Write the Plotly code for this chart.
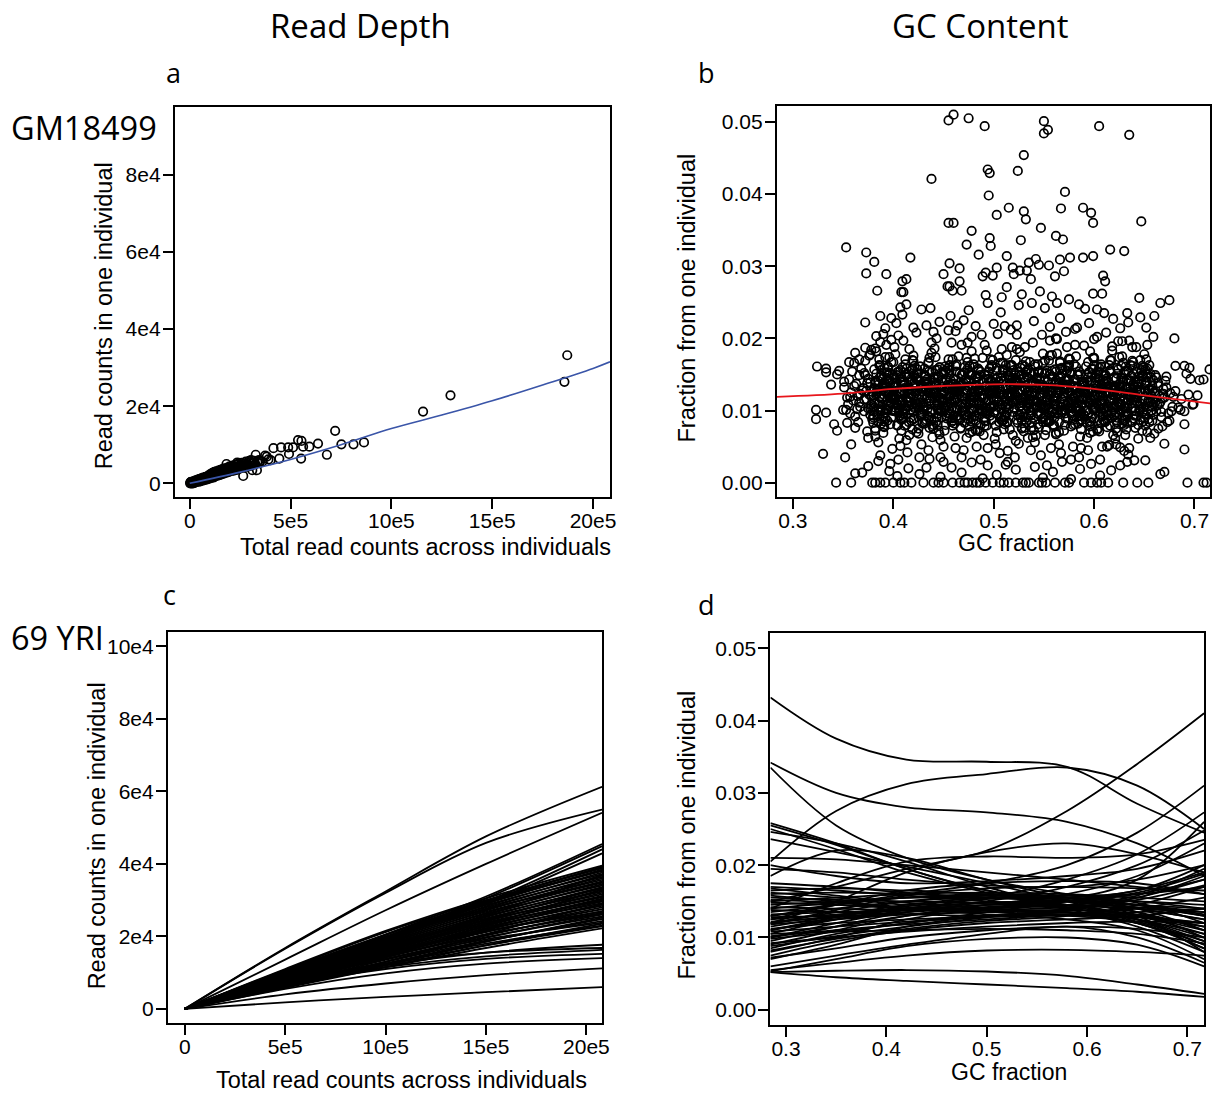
import plotly.graph_objects as go

W, H = 1225, 1095

# ---------------- data ---------------- #

# panel a: GM18499, total reads (x 1e5) vs reads in one individual (x 1e4)
gm_points = [
    (0.02, 0.00), (0.05, 0.01), (0.08, 0.01), (0.10, 0.02), (0.12, 0.01), (0.15, 0.03), (0.18, 0.02),
    (0.20, 0.04), (0.22, 0.03), (0.25, 0.05), (0.28, 0.04), (0.30, 0.06), (0.33, 0.05), (0.35, 0.07),
    (0.38, 0.05), (0.40, 0.08), (0.42, 0.06), (0.45, 0.09), (0.48, 0.07), (0.50, 0.10), (0.53, 0.08),
    (0.55, 0.11), (0.58, 0.09), (0.60, 0.12), (0.63, 0.10), (0.65, 0.13), (0.68, 0.09), (0.70, 0.14),
    (0.72, 0.11), (0.75, 0.15), (0.78, 0.12), (0.80, 0.16), (0.83, 0.13), (0.85, 0.17), (0.88, 0.12),
    (0.90, 0.18), (0.93, 0.14), (0.95, 0.19), (0.98, 0.15), (1.00, 0.20), (1.03, 0.16), (1.05, 0.22),
    (1.08, 0.17), (1.10, 0.21), (1.13, 0.18), (1.15, 0.25), (1.18, 0.19), (1.20, 0.23), (1.23, 0.20),
    (1.25, 0.27), (1.28, 0.21), (1.30, 0.24), (1.33, 0.22), (1.35, 0.28), (1.38, 0.23), (1.40, 0.26),
    (1.43, 0.24), (1.45, 0.30), (1.48, 0.25), (1.50, 0.28), (1.53, 0.26), (1.55, 0.31), (1.58, 0.27),
    (1.60, 0.29), (1.65, 0.33), (1.70, 0.30), (1.75, 0.34), (1.80, 0.31), (1.82, 0.50), (1.85, 0.36),
    (1.90, 0.33), (1.95, 0.38), (2.00, 0.34), (2.05, 0.40), (2.10, 0.36), (2.15, 0.42), (2.20, 0.37),
    (2.25, 0.43), (2.30, 0.39), (2.36, 0.54), (2.40, 0.41), (2.45, 0.46), (2.50, 0.42), (2.55, 0.48),
    (2.60, 0.44), (2.65, 0.19), (2.70, 0.47), (2.75, 0.52), (2.80, 0.45), (2.85, 0.50), (2.90, 0.48),
    (3.00, 0.55), (3.04, 0.60), (3.10, 0.34), (3.15, 0.52), (3.20, 0.58), (3.27, 0.74), (3.33, 0.34),
    (3.35, 0.55), (3.43, 0.60), (3.50, 0.58), (3.60, 0.56), (3.74, 0.72), (3.82, 0.69), (3.90, 0.62),
    (4.01, 0.60), (4.15, 0.91), (4.44, 0.64), (4.53, 0.93), (4.88, 0.93), (4.92, 0.76), (5.12, 0.93),
    (5.37, 1.12), (5.52, 0.64), (5.54, 1.10), (5.62, 0.95), (5.93, 0.95), (6.36, 1.03), (6.80, 0.74),
    (7.21, 1.36), (7.52, 1.01), (8.12, 1.01), (8.64, 1.06), (11.57, 1.86), (12.93, 2.28),
    (18.58, 2.63), (18.72, 3.32),
    (0.03, 0.02), (0.04, 0.03), (0.07, 0.04), (0.09, 0.00), (0.13, 0.04), (0.16, 0.00), (0.19, 0.05),
    (0.23, 0.01), (0.26, 0.07), (0.31, 0.03), (0.36, 0.09), (0.41, 0.04), (0.46, 0.11), (0.52, 0.05),
    (0.57, 0.13), (0.62, 0.07), (0.67, 0.15), (0.73, 0.08), (0.79, 0.17), (0.86, 0.10), (0.92, 0.20),
    (0.97, 0.12), (1.02, 0.24), (1.07, 0.14), (1.12, 0.27), (1.17, 0.15), (1.22, 0.30), (1.27, 0.18),
    (1.32, 0.31), (1.37, 0.20), (1.42, 0.33), (1.47, 0.21), (1.52, 0.35), (1.57, 0.23), (1.62, 0.37),
    (1.68, 0.25), (1.72, 0.39), (1.78, 0.27), (1.87, 0.41), (1.92, 0.29), (1.98, 0.44), (2.07, 0.32),
    (2.12, 0.46), (2.18, 0.33), (2.28, 0.49), (2.33, 0.35), (2.42, 0.51), (2.48, 0.38), (2.58, 0.53),
    (2.68, 0.41), (2.78, 0.56), (2.88, 0.43), (2.95, 0.58), (3.05, 0.46), (3.25, 0.50), (3.45, 0.52),
]
gm_fit_x = [0, 2.5, 5, 7.5, 10, 12.5, 15, 17.5, 20, 20.84]        # x 1e5
gm_fit_y = [0, 0.29, 0.62, 1.0, 1.42, 1.77, 2.14, 2.55, 2.98, 3.15]  # x 1e4

# panel b: GC fraction vs fraction from one individual (per mille)
gc_core = [
    (0.351, 13.2), (0.353, 10.1), (0.354, 11.8), (0.356, 14.3), (0.357, 9.6), (0.358, 12.5), (0.359, 15.4), (0.355, 10.9),
    (0.360, 11.4), (0.361, 16.6), (0.362, 9.2), (0.363, 13.7), (0.364, 12.0), (0.365, 8.4), (0.366, 14.9), (0.367, 10.5),
    (0.368, 15.8), (0.369, 12.8), (0.362, 7.6), (0.366, 11.1),
    (0.370, 13.1), (0.371, 9.9), (0.372, 16.9), (0.373, 11.6), (0.374, 7.1), (0.375, 14.4), (0.376, 12.2), (0.377, 10.3),
    (0.378, 18.4), (0.379, 8.8), (0.371, 15.2), (0.373, 12.7), (0.375, 6.2), (0.377, 13.9), (0.378, 10.8), (0.376, 17.6),
    (0.380, 12.1), (0.384, 9.4), (0.388, 14.8), (0.382, 7.2), (0.386, 16.3), (0.381, 11.0), (0.389, 13.5), (0.385, 5.6),
    (0.383, 18.2), (0.387, 10.2), (0.380, 8.3), (0.388, 15.6), (0.384, 12.9), (0.382, 6.4), (0.386, 17.1), (0.389, 11.7),
    (0.381, 9.9), (0.385, 14.1), (0.387, 3.8), (0.383, 20.3), (0.386, 13.0), (0.380, 10.6),
    (0.395, 10.8), (0.391, 13.9), (0.397, 8.1), (0.393, 15.2), (0.399, 11.5), (0.390, 6.9), (0.396, 17.4), (0.392, 12.6),
    (0.398, 9.0), (0.394, 14.5), (0.399, 4.7), (0.393, 19.1), (0.397, 11.9), (0.391, 7.7), (0.395, 16.0), (0.390, 13.2),
    (0.398, 10.0), (0.392, 21.4), (0.396, 12.3), (0.394, 8.6), (0.391, 15.9), (0.397, 2.6),
    (0.402, 13.4), (0.408, 11.2), (0.404, 7.9), (0.400, 16.7), (0.406, 9.7), (0.409, 14.0), (0.403, 12.0), (0.407, 5.1),
    (0.401, 18.8), (0.405, 10.4), (0.404, 15.3), (0.408, 8.9), (0.400, 13.7), (0.406, 6.1), (0.402, 17.8), (0.409, 11.4),
    (0.405, 3.2), (0.401, 14.6), (0.407, 9.3), (0.403, 22.1), (0.408, 12.5), (0.404, 10.9),
    (0.410, 9.1), (0.414, 12.8), (0.418, 15.5), (0.412, 10.3), (0.416, 6.6), (0.411, 13.6), (0.419, 17.0), (0.415, 11.3),
    (0.413, 8.0), (0.417, 14.3), (0.410, 19.7), (0.418, 12.2), (0.414, 4.2), (0.412, 16.4), (0.416, 10.7), (0.419, 7.4),
    (0.411, 13.1), (0.415, 15.0), (0.417, 11.8), (0.413, 5.9), (0.416, 18.5), (0.410, 9.6),
    (0.425, 11.6), (0.421, 14.9), (0.427, 9.8), (0.423, 7.0), (0.429, 13.3), (0.420, 16.9), (0.426, 10.1), (0.422, 12.4),
    (0.428, 5.3), (0.424, 15.7), (0.429, 8.4), (0.423, 20.8), (0.427, 11.1), (0.421, 13.8), (0.425, 6.8), (0.420, 17.6),
    (0.428, 9.5), (0.422, 12.7), (0.426, 3.5), (0.424, 14.2), (0.421, 10.5), (0.427, 16.1),
    (0.432, 12.9), (0.438, 8.7), (0.434, 14.4), (0.430, 11.0), (0.436, 17.3), (0.439, 6.3), (0.433, 13.0), (0.437, 9.9),
    (0.431, 15.8), (0.435, 4.5), (0.434, 12.1), (0.438, 18.0), (0.430, 10.6), (0.436, 7.6), (0.432, 14.7), (0.439, 11.9),
    (0.435, 16.6), (0.431, 8.2), (0.437, 13.5), (0.433, 2.1), (0.438, 19.4), (0.434, 10.2),
    (0.442, 12.4), (0.448, 9.1), (0.444, 14.6), (0.440, 7.5), (0.446, 16.0), (0.449, 11.3), (0.443, 13.8), (0.447, 5.9),
    (0.441, 18.6), (0.445, 10.0), (0.444, 8.0), (0.448, 15.3), (0.440, 12.6), (0.446, 6.7), (0.442, 17.4), (0.449, 11.5),
    (0.445, 9.6), (0.441, 14.4), (0.447, 3.5), (0.443, 20.0), (0.448, 13.3), (0.444, 10.3),
    (0.450, 11.1), (0.454, 13.6), (0.458, 8.4), (0.452, 15.5), (0.456, 11.2), (0.451, 7.2), (0.459, 17.1), (0.455, 12.9),
    (0.453, 9.3), (0.457, 14.2), (0.450, 5.0), (0.458, 19.4), (0.454, 11.6), (0.452, 8.0), (0.456, 16.3), (0.459, 12.9),
    (0.451, 10.3), (0.455, 21.1), (0.457, 12.0), (0.453, 8.9), (0.456, 15.6), (0.450, 2.9),
    (0.465, 13.1), (0.461, 11.5), (0.467, 7.6), (0.463, 16.4), (0.469, 10.0), (0.460, 13.7), (0.466, 12.3), (0.462, 4.8),
    (0.468, 19.1), (0.464, 10.1), (0.469, 15.0), (0.463, 9.2), (0.467, 13.4), (0.461, 6.4), (0.465, 17.5), (0.460, 11.7),
    (0.468, 3.5), (0.462, 14.3), (0.466, 9.0), (0.464, 21.8), (0.461, 12.8), (0.467, 10.6),
    (0.472, 9.4), (0.478, 12.5), (0.474, 15.8), (0.470, 10.0), (0.476, 6.9), (0.479, 13.3), (0.473, 17.3), (0.477, 11.0),
    (0.471, 8.3), (0.475, 14.0), (0.474, 19.4), (0.478, 12.5), (0.470, 4.5), (0.476, 16.1), (0.472, 11.0), (0.479, 7.1),
    (0.475, 13.4), (0.471, 15.3), (0.477, 11.5), (0.473, 6.2), (0.478, 18.2), (0.474, 9.3),
    (0.480, 11.9), (0.484, 14.6), (0.488, 10.1), (0.482, 7.3), (0.486, 13.0), (0.481, 17.2), (0.489, 9.8), (0.485, 12.7),
    (0.483, 5.0), (0.487, 15.4), (0.480, 8.7), (0.488, 20.5), (0.484, 11.4), (0.482, 13.5), (0.486, 7.1), (0.489, 17.3),
    (0.481, 9.2), (0.485, 13.0), (0.487, 3.2), (0.483, 14.5), (0.486, 10.2), (0.480, 16.4),
    (0.495, 12.6), (0.491, 9.0), (0.497, 14.1), (0.493, 11.3), (0.499, 17.0), (0.490, 6.6), (0.496, 13.3), (0.492, 9.6),
    (0.498, 16.1), (0.494, 4.8), (0.499, 12.4), (0.493, 18.3), (0.497, 10.3), (0.491, 7.9), (0.495, 14.4), (0.490, 12.2),
    (0.498, 16.3), (0.492, 8.5), (0.496, 13.2), (0.494, 2.4), (0.491, 19.1), (0.497, 10.5),
    (0.505, 12.3), (0.501, 9.7), (0.507, 14.5), (0.503, 7.0), (0.509, 16.6), (0.500, 10.7), (0.506, 13.2), (0.502, 5.3),
    (0.508, 18.5), (0.504, 10.5), (0.509, 8.6), (0.503, 15.9), (0.507, 12.6), (0.501, 6.1), (0.505, 17.4), (0.500, 11.4),
    (0.508, 10.2), (0.502, 14.4), (0.506, 4.1), (0.504, 20.6), (0.501, 13.3), (0.507, 10.9),
    (0.512, 10.5), (0.518, 14.2), (0.514, 8.4), (0.510, 15.5), (0.516, 11.8), (0.519, 6.6), (0.513, 17.7), (0.517, 12.3),
    (0.511, 9.3), (0.515, 14.8), (0.514, 4.4), (0.518, 18.8), (0.510, 12.2), (0.516, 7.4), (0.512, 16.3), (0.519, 12.9),
    (0.515, 10.3), (0.511, 21.7), (0.517, 12.0), (0.513, 8.3), (0.518, 16.2), (0.514, 2.9),
    (0.520, 13.7), (0.524, 11.5), (0.528, 7.6), (0.522, 17.0), (0.526, 9.4), (0.521, 14.3), (0.529, 11.7), (0.525, 5.4),
    (0.523, 18.5), (0.527, 10.7), (0.520, 15.6), (0.528, 8.6), (0.524, 14.0), (0.522, 5.8), (0.526, 18.1), (0.529, 11.1),
    (0.521, 3.5), (0.525, 14.9), (0.527, 9.0), (0.523, 21.8), (0.526, 12.8), (0.520, 11.2),
    (0.535, 9.4), (0.531, 13.1), (0.537, 15.2), (0.533, 10.6), (0.539, 6.3), (0.530, 13.9), (0.536, 16.7), (0.532, 11.6),
    (0.538, 7.7), (0.534, 14.6), (0.539, 19.4), (0.533, 12.5), (0.537, 4.5), (0.531, 16.1), (0.535, 11.0), (0.530, 7.1),
    (0.538, 13.4), (0.532, 15.3), (0.536, 11.5), (0.534, 6.2), (0.531, 18.8), (0.537, 9.3),
    (0.542, 11.3), (0.548, 15.2), (0.544, 9.5), (0.540, 7.3), (0.546, 13.6), (0.549, 16.6), (0.543, 10.4), (0.547, 12.1),
    (0.541, 5.6), (0.545, 15.4), (0.544, 8.1), (0.548, 20.5), (0.540, 11.4), (0.546, 14.1), (0.542, 6.5), (0.549, 17.9),
    (0.545, 9.8), (0.541, 12.4), (0.547, 3.8), (0.543, 14.5), (0.548, 10.8), (0.544, 16.4),
    (0.550, 13.2), (0.554, 8.4), (0.558, 14.7), (0.552, 10.7), (0.556, 17.6), (0.551, 6.6), (0.559, 12.7), (0.555, 10.2),
    (0.553, 15.5), (0.557, 4.8), (0.550, 12.4), (0.558, 17.7), (0.554, 10.9), (0.552, 7.3), (0.556, 15.0), (0.559, 11.6),
    (0.551, 16.9), (0.555, 8.5), (0.557, 13.2), (0.553, 2.4), (0.556, 19.7), (0.550, 10.5),
    (0.560, 11.8), (0.564, 9.7), (0.568, 15.1), (0.562, 6.9), (0.566, 16.6), (0.561, 11.3), (0.569, 13.2), (0.565, 5.3),
    (0.563, 17.9), (0.567, 10.5), (0.560, 8.0), (0.568, 15.9), (0.564, 13.2), (0.562, 6.7), (0.566, 16.8), (0.569, 12.0),
    (0.561, 9.6), (0.565, 13.8), (0.567, 4.1), (0.563, 19.9), (0.566, 12.7), (0.560, 10.9),
    (0.575, 11.1), (0.571, 14.2), (0.577, 7.8), (0.573, 15.5), (0.579, 11.2), (0.570, 7.2), (0.576, 17.1), (0.572, 12.9),
    (0.578, 9.3), (0.574, 14.2), (0.579, 5.0), (0.573, 18.8), (0.577, 11.6), (0.571, 8.0), (0.575, 16.3), (0.570, 13.5),
    (0.578, 10.3), (0.572, 20.9), (0.576, 12.6), (0.574, 8.9), (0.571, 15.6), (0.577, 3.2),
    (0.582, 13.1), (0.588, 11.5), (0.584, 8.2), (0.580, 16.4), (0.586, 10.0), (0.589, 13.7), (0.583, 12.3), (0.587, 4.8),
    (0.581, 19.1), (0.585, 10.1), (0.584, 15.0), (0.588, 9.2), (0.580, 13.4), (0.586, 6.4), (0.582, 17.5), (0.589, 11.7),
    (0.585, 3.5), (0.581, 14.3), (0.587, 9.6), (0.583, 21.5), (0.588, 12.8), (0.584, 10.6),
    (0.590, 9.4), (0.594, 12.5), (0.598, 15.8), (0.592, 10.0), (0.596, 6.9), (0.591, 13.3), (0.599, 17.3), (0.595, 11.0),
    (0.593, 8.3), (0.597, 14.0), (0.590, 19.0), (0.598, 12.5), (0.594, 4.5), (0.592, 16.1), (0.596, 11.0), (0.599, 7.1),
    (0.591, 13.4), (0.595, 15.3), (0.597, 11.5), (0.593, 6.2), (0.596, 18.2), (0.590, 9.3),
    (0.605, 11.9), (0.601, 14.6), (0.607, 10.1), (0.603, 7.3), (0.609, 13.0), (0.600, 17.2), (0.606, 9.8), (0.602, 12.7),
    (0.608, 5.0), (0.604, 15.4), (0.609, 8.7), (0.603, 20.2), (0.607, 11.4), (0.601, 13.5), (0.605, 7.1), (0.600, 17.3),
    (0.608, 9.2), (0.602, 13.0), (0.606, 3.2), (0.604, 14.5), (0.601, 10.2), (0.607, 16.4),
    (0.612, 12.6), (0.618, 9.0), (0.614, 14.1), (0.610, 11.3), (0.616, 17.0), (0.619, 6.6), (0.613, 13.3), (0.617, 9.6),
    (0.611, 16.1), (0.615, 5.2), (0.614, 12.4), (0.618, 18.3), (0.610, 10.3), (0.616, 7.9), (0.612, 14.4), (0.619, 12.2),
    (0.615, 16.3), (0.611, 8.5), (0.617, 13.2), (0.613, 5.0), (0.618, 18.9), (0.614, 10.5),
    (0.625, 12.3), (0.621, 9.7), (0.627, 14.5), (0.623, 7.0), (0.629, 16.6), (0.620, 10.7), (0.626, 13.2), (0.622, 5.3),
    (0.628, 17.5), (0.624, 10.5), (0.629, 8.6), (0.623, 15.9), (0.627, 12.6), (0.621, 6.1), (0.625, 17.4), (0.620, 11.4),
    (0.628, 10.2), (0.622, 14.4), (0.626, 4.9), (0.624, 19.6), (0.621, 13.3), (0.627, 10.9),
    (0.630, 10.5), (0.634, 14.2), (0.638, 8.4), (0.632, 15.5), (0.636, 11.8), (0.631, 6.6), (0.639, 16.7), (0.635, 12.3),
    (0.633, 9.3), (0.637, 14.8), (0.630, 4.4), (0.638, 18.8), (0.634, 12.2), (0.632, 7.4), (0.636, 16.3), (0.639, 12.9),
    (0.631, 10.3), (0.635, 19.7), (0.637, 12.0), (0.633, 8.3), (0.638, 16.2), (0.634, 3.9),
    (0.640, 12.2), (0.642, 9.3), (0.644, 14.7), (0.646, 11.0), (0.648, 16.2), (0.641, 7.6), (0.643, 13.3), (0.645, 10.1),
    (0.647, 15.3), (0.649, 8.5), (0.642, 12.8), (0.644, 6.1), (0.646, 17.0), (0.648, 11.6), (0.641, 14.0), (0.645, 9.8),
    (0.650, 11.4), (0.652, 13.9), (0.654, 8.8), (0.656, 15.1), (0.658, 10.6), (0.651, 12.7), (0.653, 7.0), (0.655, 16.3),
    (0.657, 12.0), (0.659, 9.4), (0.652, 14.6), (0.654, 11.1), (0.656, 6.2), (0.658, 13.4),
    (0.660, 12.6), (0.662, 9.9), (0.664, 13.8), (0.666, 11.2), (0.668, 7.8), (0.661, 14.9), (0.663, 10.7), (0.665, 12.1),
    (0.667, 9.1), (0.669, 13.0),
    (0.670, 11.8), (0.672, 13.2), (0.674, 9.6), (0.676, 12.4), (0.678, 10.5), (0.671, 14.1), (0.675, 8.6), (0.679, 11.9),
    (0.681, 12.7), (0.684, 10.4), (0.687, 11.6), (0.690, 9.9), (0.694, 12.2), (0.698, 10.8),
]
gc_dense = [
    (0.357, 11.9), (0.361, 13.4), (0.364, 10.2), (0.367, 12.3),
    (0.371, 11.5), (0.374, 13.8), (0.377, 9.4), (0.379, 12.6), (0.372, 14.9), (0.375, 10.3), (0.378, 12.0),
    (0.381, 10.4), (0.385, 13.6), (0.388, 8.2), (0.383, 15.1), (0.386, 11.9), (0.380, 9.3), (0.389, 14.4),
    (0.384, 12.7), (0.382, 7.5), (0.387, 16.2), (0.385, 10.9), (0.381, 13.1), (0.388, 8.8), (0.383, 12.2),
    (0.396, 12.9), (0.392, 9.7), (0.399, 14.9), (0.394, 11.3), (0.390, 7.8), (0.397, 13.8), (0.393, 10.1),
    (0.398, 16.7), (0.395, 12.4), (0.391, 8.5), (0.394, 15.3), (0.399, 11.6), (0.390, 9.1), (0.396, 14.0),
    (0.403, 11.1), (0.408, 14.7), (0.401, 9.9), (0.406, 12.6), (0.409, 16.0), (0.404, 8.0), (0.400, 13.3),
    (0.405, 10.7), (0.407, 15.6), (0.402, 11.8), (0.408, 7.2), (0.403, 13.9), (0.406, 10.2), (0.401, 12.0),
    (0.411, 13.5), (0.415, 10.6), (0.418, 8.6), (0.413, 15.8), (0.416, 12.3), (0.410, 9.5), (0.419, 14.2),
    (0.414, 11.4), (0.412, 17.1), (0.417, 10.0), (0.415, 13.0), (0.411, 7.9), (0.418, 12.8), (0.413, 15.0),
    (0.426, 10.4), (0.422, 13.6), (0.429, 8.2), (0.424, 15.1), (0.420, 11.9), (0.427, 9.3), (0.423, 14.4),
    (0.428, 12.7), (0.425, 7.5), (0.421, 16.2), (0.424, 10.9), (0.429, 13.1), (0.420, 8.8), (0.426, 12.2),
    (0.433, 12.9), (0.438, 9.7), (0.431, 14.9), (0.436, 11.3), (0.439, 7.8), (0.434, 13.8), (0.430, 10.1),
    (0.435, 16.7), (0.437, 12.4), (0.432, 8.5), (0.438, 15.3), (0.433, 11.6), (0.436, 9.1), (0.431, 14.0),
    (0.441, 11.1), (0.445, 14.7), (0.448, 9.9), (0.443, 12.6), (0.446, 16.0), (0.440, 8.0), (0.449, 13.3),
    (0.444, 10.7), (0.442, 15.6), (0.447, 11.8), (0.445, 7.2), (0.441, 13.9), (0.448, 10.2), (0.443, 12.0),
    (0.456, 13.5), (0.452, 10.6), (0.459, 8.6), (0.454, 15.8), (0.450, 12.3), (0.457, 9.5), (0.453, 14.2),
    (0.458, 11.4), (0.455, 17.1), (0.451, 10.0), (0.454, 13.0), (0.459, 7.9), (0.450, 12.8), (0.456, 15.0),
    (0.463, 10.4), (0.468, 13.6), (0.461, 8.2), (0.466, 15.1), (0.469, 11.9), (0.464, 9.3), (0.460, 14.4),
    (0.465, 12.7), (0.467, 7.5), (0.462, 16.2), (0.468, 10.9), (0.463, 13.1), (0.466, 8.8), (0.461, 12.2),
    (0.471, 12.9), (0.475, 9.7), (0.478, 14.9), (0.473, 11.3), (0.476, 7.8), (0.470, 13.8), (0.479, 10.1),
    (0.474, 16.7), (0.472, 12.4), (0.477, 8.5), (0.475, 15.3), (0.471, 11.6), (0.478, 9.1), (0.473, 14.0),
    (0.486, 11.1), (0.482, 14.7), (0.489, 9.9), (0.484, 12.6), (0.480, 16.0), (0.487, 8.0), (0.483, 13.3),
    (0.488, 10.7), (0.485, 15.6), (0.481, 11.8), (0.484, 7.2), (0.489, 13.9), (0.480, 10.2), (0.486, 12.0),
    (0.493, 13.5), (0.498, 10.6), (0.491, 8.6), (0.496, 15.8), (0.499, 12.3), (0.494, 9.5), (0.490, 14.2),
    (0.495, 11.4), (0.497, 17.1), (0.492, 10.0), (0.498, 13.0), (0.493, 7.9), (0.496, 12.8), (0.491, 15.0),
    (0.501, 10.8), (0.505, 14.0), (0.508, 8.6), (0.503, 15.5), (0.506, 12.3), (0.500, 9.7), (0.509, 14.8),
    (0.504, 13.1), (0.502, 7.9), (0.507, 16.6), (0.505, 11.3), (0.501, 13.5), (0.508, 9.2), (0.503, 12.6),
    (0.516, 12.5), (0.512, 9.3), (0.519, 14.5), (0.514, 10.9), (0.510, 7.4), (0.517, 13.4), (0.513, 9.7),
    (0.518, 16.3), (0.515, 12.0), (0.511, 8.1), (0.514, 14.9), (0.519, 11.2), (0.510, 8.7), (0.516, 13.6),
    (0.523, 11.4), (0.528, 15.0), (0.521, 10.2), (0.526, 12.9), (0.529, 16.3), (0.524, 8.3), (0.520, 13.6),
    (0.525, 11.0), (0.527, 15.9), (0.522, 12.1), (0.528, 7.5), (0.523, 14.2), (0.526, 10.5), (0.521, 12.3),
    (0.531, 13.2), (0.535, 10.3), (0.538, 8.3), (0.533, 15.5), (0.536, 12.0), (0.530, 9.2), (0.539, 13.9),
    (0.534, 11.1), (0.532, 16.8), (0.537, 9.7), (0.535, 12.7), (0.531, 7.6), (0.538, 12.5), (0.533, 14.7),
    (0.546, 10.6), (0.542, 13.8), (0.549, 8.4), (0.544, 15.3), (0.540, 12.1), (0.547, 9.5), (0.543, 14.6),
    (0.548, 12.9), (0.545, 7.7), (0.541, 16.4), (0.544, 11.1), (0.549, 13.3), (0.540, 9.0), (0.546, 12.4),
    (0.553, 13.1), (0.558, 9.9), (0.551, 15.1), (0.556, 11.5), (0.559, 8.0), (0.554, 14.0), (0.550, 10.3),
    (0.555, 16.9), (0.557, 12.6), (0.552, 8.7), (0.558, 15.5), (0.553, 11.8), (0.556, 9.3), (0.551, 14.2),
    (0.561, 10.9), (0.565, 14.5), (0.568, 9.7), (0.563, 12.4), (0.566, 15.8), (0.560, 7.8), (0.569, 13.1),
    (0.564, 10.5), (0.562, 15.4), (0.567, 11.6), (0.565, 7.0), (0.561, 13.7), (0.568, 10.0), (0.563, 11.8),
    (0.576, 13.6), (0.572, 10.7), (0.579, 8.7), (0.574, 15.9), (0.570, 12.4), (0.577, 9.6), (0.573, 14.3),
    (0.578, 11.5), (0.575, 17.2), (0.571, 10.1), (0.574, 13.1), (0.579, 8.0), (0.570, 12.9), (0.576, 15.1),
    (0.583, 10.3), (0.588, 13.5), (0.581, 8.1), (0.586, 15.0), (0.589, 11.8), (0.584, 9.2), (0.580, 14.3),
    (0.585, 12.6), (0.587, 7.4), (0.582, 16.1), (0.588, 10.8), (0.583, 13.0), (0.586, 8.7), (0.581, 12.1),
    (0.591, 12.9), (0.595, 9.7), (0.598, 14.9), (0.593, 11.3), (0.596, 7.8), (0.590, 13.8), (0.599, 10.1),
    (0.594, 16.7), (0.592, 12.4), (0.597, 8.5), (0.595, 15.3), (0.591, 11.6), (0.598, 9.1), (0.593, 14.0),
    (0.606, 11.4), (0.602, 15.0), (0.609, 10.2), (0.604, 12.9), (0.600, 16.3), (0.607, 8.3), (0.603, 13.6),
    (0.608, 11.0), (0.605, 15.9), (0.601, 12.1), (0.604, 7.5), (0.609, 14.2), (0.600, 10.5), (0.606, 12.3),
    (0.613, 13.3), (0.618, 10.4), (0.611, 8.4), (0.616, 15.6), (0.619, 12.1), (0.614, 9.3), (0.610, 14.0),
    (0.615, 11.2), (0.617, 16.9), (0.612, 9.8), (0.618, 12.8), (0.613, 7.7), (0.616, 12.6), (0.611, 14.8),
    (0.621, 10.4), (0.625, 13.6), (0.628, 8.2), (0.623, 15.1), (0.626, 11.9), (0.620, 9.3), (0.629, 14.4),
    (0.624, 12.7), (0.622, 7.5), (0.627, 16.2), (0.625, 10.9), (0.621, 13.1), (0.628, 8.8), (0.623, 12.2),
    (0.636, 13.1), (0.632, 9.9), (0.639, 15.1), (0.634, 11.5), (0.630, 8.0), (0.637, 14.0), (0.633, 10.3),
    (0.638, 16.9), (0.635, 12.6), (0.631, 8.7), (0.634, 15.5), (0.639, 11.8), (0.630, 9.3), (0.636, 14.2),
    (0.643, 11.1), (0.648, 14.7), (0.641, 9.9), (0.646, 12.6), (0.649, 16.0), (0.644, 8.0), (0.640, 13.3),
    (0.645, 10.7), (0.647, 15.6), (0.642, 11.8), (0.648, 7.2), (0.643, 13.9), (0.646, 10.2), (0.641, 12.0),
    (0.651, 13.5), (0.655, 10.6), (0.658, 8.6), (0.653, 15.8), (0.656, 12.3), (0.650, 9.5), (0.659, 14.2),
    (0.654, 11.4), (0.652, 17.1), (0.657, 10.0), (0.655, 13.0), (0.651, 7.9), (0.658, 12.8), (0.653, 15.0),
    (0.661, 11.2), (0.664, 13.4), (0.667, 9.8), (0.669, 12.3), (0.662, 14.6), (0.665, 10.9), (0.668, 11.7),
]
gc_dense2 = [
    (0.3805, 9.0), (0.3835, 12.4), (0.3865, 14.6), (0.3895, 10.8), (0.3820, 13.9), (0.3850, 8.4), (0.3880, 11.6), (0.3810, 15.7), (0.3845, 12.9), (0.3875, 10.0), (0.3825, 14.1), (0.3860, 11.2),
    (0.3905, 13.0), (0.3935, 10.3), (0.3965, 15.2), (0.3995, 11.9), (0.3920, 8.9), (0.3950, 14.3), (0.3980, 12.1), (0.3910, 9.6), (0.3945, 16.1), (0.3975, 11.0), (0.3925, 13.6), (0.3960, 10.6),
    (0.4005, 11.7), (0.4035, 14.9), (0.4065, 9.3), (0.4095, 12.8), (0.4020, 10.4), (0.4050, 15.4), (0.4080, 8.7), (0.4010, 13.3), (0.4045, 11.4), (0.4075, 14.0), (0.4025, 9.9), (0.4060, 12.5),
    (0.4170, 9.0), (0.4115, 12.4), (0.4140, 14.6), (0.4185, 10.8), (0.4105, 13.9), (0.4155, 8.4), (0.4130, 11.6), (0.4190, 15.7), (0.4165, 12.9), (0.4120, 10.0), (0.4175, 14.1), (0.4145, 11.2),
    (0.4270, 13.0), (0.4215, 10.3), (0.4240, 15.2), (0.4285, 11.9), (0.4205, 8.9), (0.4255, 14.3), (0.4230, 12.1), (0.4290, 9.6), (0.4265, 16.1), (0.4220, 11.0), (0.4275, 13.6), (0.4245, 10.6),
    (0.4370, 11.7), (0.4315, 14.9), (0.4340, 9.3), (0.4385, 12.8), (0.4305, 10.4), (0.4355, 15.4), (0.4330, 8.7), (0.4390, 13.3), (0.4365, 11.4), (0.4320, 14.0), (0.4375, 9.9), (0.4345, 12.5),
    (0.4430, 9.0), (0.4480, 12.4), (0.4400, 14.6), (0.4455, 10.8), (0.4490, 13.9), (0.4425, 8.4), (0.4460, 11.6), (0.4440, 15.7), (0.4415, 12.9), (0.4470, 10.0), (0.4485, 14.1), (0.4435, 11.2),
    (0.4530, 13.0), (0.4580, 10.3), (0.4500, 15.2), (0.4555, 11.9), (0.4590, 8.9), (0.4525, 14.3), (0.4560, 12.1), (0.4540, 9.6), (0.4515, 16.1), (0.4570, 11.0), (0.4585, 13.6), (0.4535, 10.6),
    (0.4630, 11.7), (0.4680, 14.9), (0.4600, 9.3), (0.4655, 12.8), (0.4690, 10.4), (0.4625, 15.4), (0.4660, 8.7), (0.4640, 13.3), (0.4615, 11.4), (0.4670, 14.0), (0.4685, 9.9), (0.4635, 12.5),
    (0.4705, 9.3), (0.4735, 12.7), (0.4765, 14.9), (0.4795, 11.1), (0.4720, 14.2), (0.4750, 8.7), (0.4780, 11.9), (0.4710, 16.0), (0.4745, 13.2), (0.4775, 10.3), (0.4725, 14.4), (0.4760, 11.5),
    (0.4805, 12.7), (0.4835, 10.0), (0.4865, 14.9), (0.4895, 11.6), (0.4820, 8.6), (0.4850, 14.0), (0.4880, 11.8), (0.4810, 9.3), (0.4845, 15.8), (0.4875, 10.7), (0.4825, 13.3), (0.4860, 10.3),
    (0.4905, 11.7), (0.4935, 14.9), (0.4965, 9.3), (0.4995, 12.8), (0.4920, 10.4), (0.4950, 15.4), (0.4980, 8.7), (0.4910, 13.3), (0.4945, 11.4), (0.4975, 14.0), (0.4925, 9.9), (0.4960, 12.5),
    (0.5070, 9.0), (0.5015, 12.4), (0.5040, 14.6), (0.5085, 10.8), (0.5005, 13.9), (0.5055, 8.4), (0.5030, 11.6), (0.5090, 15.7), (0.5065, 12.9), (0.5020, 10.0), (0.5075, 14.1), (0.5045, 11.2),
    (0.5170, 13.2), (0.5115, 10.5), (0.5140, 15.4), (0.5185, 12.1), (0.5105, 9.1), (0.5155, 14.5), (0.5130, 12.3), (0.5190, 9.8), (0.5165, 16.3), (0.5120, 11.2), (0.5175, 13.8), (0.5145, 10.8),
    (0.5270, 11.7), (0.5215, 14.9), (0.5240, 9.3), (0.5285, 12.8), (0.5205, 10.4), (0.5255, 15.4), (0.5230, 8.7), (0.5290, 13.3), (0.5265, 11.4), (0.5220, 14.0), (0.5275, 9.9), (0.5245, 12.5),
    (0.5330, 9.0), (0.5380, 12.4), (0.5300, 14.6), (0.5355, 10.8), (0.5390, 13.9), (0.5325, 8.4), (0.5360, 11.6), (0.5340, 15.7), (0.5315, 12.9), (0.5370, 10.0), (0.5385, 14.1), (0.5335, 11.2),
    (0.5430, 13.0), (0.5480, 10.3), (0.5400, 15.2), (0.5455, 11.9), (0.5490, 8.9), (0.5425, 14.3), (0.5460, 12.1), (0.5440, 9.6), (0.5415, 16.1), (0.5470, 11.0), (0.5485, 13.6), (0.5435, 10.6),
    (0.5530, 11.5), (0.5580, 14.7), (0.5500, 9.1), (0.5555, 12.6), (0.5590, 10.2), (0.5525, 15.2), (0.5560, 8.5), (0.5540, 13.1), (0.5515, 11.2), (0.5570, 13.8), (0.5585, 9.7), (0.5535, 12.3),
    (0.5605, 9.0), (0.5635, 12.4), (0.5665, 14.6), (0.5695, 10.8), (0.5620, 13.9), (0.5650, 8.4), (0.5680, 11.6), (0.5610, 15.7), (0.5645, 12.9), (0.5675, 10.0), (0.5625, 14.1), (0.5660, 11.2),
    (0.5705, 13.0), (0.5735, 10.3), (0.5765, 15.2), (0.5795, 11.9), (0.5720, 8.9), (0.5750, 14.3), (0.5780, 12.1), (0.5710, 9.6), (0.5745, 16.1), (0.5775, 11.0), (0.5725, 13.6), (0.5760, 10.6),
    (0.5805, 11.7), (0.5835, 14.9), (0.5865, 9.3), (0.5895, 12.8), (0.5820, 10.4), (0.5850, 15.4), (0.5880, 8.7), (0.5810, 13.3), (0.5845, 11.4), (0.5875, 14.0), (0.5825, 9.9), (0.5860, 12.5),
    (0.5970, 9.0), (0.5915, 12.4), (0.5940, 14.6), (0.5985, 10.8), (0.5905, 13.9), (0.5955, 8.4), (0.5930, 11.6), (0.5990, 15.7), (0.5965, 12.9), (0.5920, 10.0), (0.5975, 14.1), (0.5945, 11.2),
    (0.6070, 13.0), (0.6015, 10.3), (0.6040, 15.2), (0.6085, 11.9), (0.6005, 8.9), (0.6055, 14.3), (0.6030, 12.1), (0.6090, 9.6), (0.6065, 16.1), (0.6020, 11.0), (0.6075, 13.6), (0.6045, 10.6),
    (0.6170, 11.7), (0.6115, 14.9), (0.6140, 9.3), (0.6185, 12.8), (0.6105, 10.4), (0.6155, 15.4), (0.6130, 8.7), (0.6190, 13.3), (0.6165, 11.4), (0.6120, 14.0), (0.6175, 9.9), (0.6145, 12.5),
    (0.6230, 9.0), (0.6280, 12.4), (0.6200, 14.6), (0.6255, 10.8), (0.6290, 13.9), (0.6225, 8.4), (0.6260, 11.6), (0.6240, 15.7), (0.6215, 12.9), (0.6270, 10.0), (0.6285, 14.1), (0.6235, 11.2),
    (0.6330, 13.0), (0.6380, 10.3), (0.6300, 15.2), (0.6355, 11.9), (0.6390, 8.9), (0.6325, 14.3), (0.6360, 12.1), (0.6340, 9.6), (0.6315, 16.1), (0.6370, 11.0), (0.6385, 13.6), (0.6335, 10.6),
    (0.6430, 11.7), (0.6480, 14.9), (0.6400, 9.3), (0.6455, 12.8), (0.6490, 10.4), (0.6425, 15.4), (0.6460, 8.7), (0.6440, 13.3), (0.6415, 11.4), (0.6470, 14.0), (0.6485, 9.9), (0.6435, 12.5),
    (0.6505, 9.0), (0.6535, 12.4), (0.6565, 14.6), (0.6595, 10.8), (0.6520, 13.9), (0.6550, 8.4), (0.6580, 11.6), (0.6510, 15.7), (0.6545, 12.9), (0.6575, 10.0), (0.6525, 14.1), (0.6560, 11.2),
]
gc_sparse = [
    (0.455, 50.2), (0.460, 51.0), (0.475, 50.5), (0.491, 49.4), (0.550, 50.1), (0.550, 48.4), (0.554, 48.9),
    (0.605, 49.4), (0.635, 48.2), (0.530, 45.4), (0.524, 43.2), (0.494, 43.4), (0.496, 42.9), (0.438, 42.1),
    (0.495, 39.8), (0.571, 40.3), (0.515, 38.1), (0.530, 37.6), (0.532, 36.5), (0.503, 37.1), (0.567, 38.0),
    (0.589, 38.1), (0.597, 37.4), (0.599, 36.0), (0.647, 36.2), (0.455, 36.0), (0.460, 36.0), (0.478, 34.9),
    (0.547, 35.3), (0.496, 33.9), (0.497, 32.8), (0.473, 33.0), (0.527, 33.6), (0.562, 34.2), (0.569, 33.7),
    (0.353, 32.6), (0.373, 31.9), (0.417, 31.2), (0.485, 31.6), (0.513, 31.4), (0.576, 31.2), (0.589, 31.2),
    (0.599, 31.4), (0.616, 32.3), (0.630, 32.1), (0.381, 30.6), (0.535, 30.5), (0.542, 31.0), (0.545, 30.2),
    (0.555, 30.1), (0.566, 30.9), (0.456, 30.4),
    (0.373, 29.0), (0.393, 28.9), (0.450, 28.9), (0.466, 29.7), (0.489, 28.6), (0.492, 29.1), (0.499, 28.7),
    (0.503, 29.8), (0.519, 29.8), (0.520, 28.9), (0.526, 29.4), (0.533, 29.4), (0.537, 28.2), (0.561, 28.6),
    (0.570, 29.3), (0.609, 28.7), (0.611, 27.9), (0.409, 27.9), (0.413, 28.2), (0.384, 26.6), (0.408, 26.4),
    (0.410, 26.4), (0.454, 27.2), (0.456, 27.2), (0.459, 26.6), (0.466, 27.9), (0.468, 26.6), (0.513, 27.1),
    (0.528, 26.1), (0.546, 26.5), (0.558, 25.8), (0.599, 26.2), (0.608, 26.2), (0.645, 25.6), (0.666, 24.9),
    (0.675, 25.3),
    (0.372, 22.2), (0.387, 23.1), (0.398, 22.8), (0.407, 24.3), (0.409, 23.3), (0.413, 24.7), (0.428, 24.0),
    (0.437, 24.2), (0.457, 23.1), (0.475, 23.9), (0.494, 24.9), (0.492, 26.0), (0.507, 23.6), (0.508, 25.7),
    (0.525, 24.6), (0.538, 24.9), (0.551, 24.2), (0.563, 24.9), (0.575, 25.4), (0.585, 24.7), (0.591, 24.1),
    (0.603, 24.0), (0.610, 23.5), (0.619, 22.7), (0.633, 23.5), (0.634, 22.2), (0.646, 22.9), (0.660, 23.1),
    (0.680, 20.0), (0.652, 21.5), (0.659, 20.2), (0.653, 19.1), (0.642, 18.8), (0.650, 17.8),
    (0.420, 21.5), (0.433, 21.8), (0.446, 22.3), (0.462, 21.0), (0.470, 22.5), (0.482, 21.7), (0.500, 22.0),
    (0.517, 21.2), (0.540, 22.4), (0.556, 21.6), (0.566, 22.8), (0.581, 21.3), (0.595, 22.1), (0.612, 20.8),
    (0.626, 21.4), (0.390, 20.6), (0.398, 19.8), (0.405, 20.4), (0.440, 20.9), (0.478, 20.2), (0.523, 20.5),
    (0.562, 20.0), (0.600, 19.9), (0.628, 19.6),
    (0.672, 14.7), (0.681, 16.2), (0.690, 16.2), (0.695, 15.9), (0.692, 15.1), (0.696, 14.4), (0.705, 14.2),
    (0.709, 14.3), (0.715, 15.7), (0.703, 12.1), (0.699, 10.9), (0.686, 10.1), (0.673, 8.4), (0.690, 8.1),
    (0.690, 4.6), (0.670, 5.4), (0.666, 1.2), (0.670, 1.5), (0.651, 3.1), (0.635, 4.8), (0.633, 2.9),
    (0.640, 3.1), (0.660, 6.8), (0.677, 9.9), (0.664, 7.5),
    (0.324, 16.1), (0.333, 15.8), (0.333, 15.3), (0.338, 13.6), (0.344, 15.0), (0.346, 15.5), (0.323, 10.1),
    (0.323, 8.8), (0.333, 9.7), (0.330, 4.0), (0.341, 8.1), (0.344, 7.2), (0.352, 3.5), (0.358, 5.3),
    (0.362, 1.3), (0.369, 1.4), (0.351, 14.0), (0.356, 16.7), (0.362, 18.0), (0.366, 17.1), (0.372, 18.7),
    (0.377, 17.8), (0.382, 18.6), (0.387, 19.5), (0.392, 17.4), (0.350, 10.1), (0.354, 8.3),
    (0.375, 2.3), (0.385, 3.0), (0.396, 1.6), (0.404, 0.9), (0.415, 2.0), (0.426, 1.2), (0.436, 3.3),
    (0.447, 0.8), (0.458, 2.1), (0.468, 1.4), (0.478, 2.8), (0.489, 0.6), (0.503, 1.1), (0.512, 2.5),
    (0.522, 1.8), (0.541, 2.2), (0.549, 0.7), (0.559, 1.5), (0.568, 2.9), (0.577, 0.5), (0.586, 1.9),
    (0.597, 2.6), (0.606, 1.0), (0.617, 1.7), (0.626, 2.4),
]
gc_zero_x = [0.343, 0.358, 0.379, 0.382, 0.387, 0.392, 0.400, 0.407, 0.411, 0.418, 0.430, 0.440, 0.445,
             0.450, 0.459, 0.466, 0.471, 0.474, 0.479, 0.483, 0.486, 0.492, 0.499, 0.506, 0.510, 0.515,
             0.522, 0.529, 0.532, 0.535, 0.545, 0.548, 0.552, 0.561, 0.571, 0.575, 0.590, 0.597, 0.603,
             0.607, 0.614, 0.629, 0.643, 0.654, 0.693, 0.709, 0.712]
gc_fit_x = [0.284, 0.35, 0.40, 0.45, 0.50, 0.55, 0.60, 0.65, 0.7155]
gc_fit_y = [11.9, 12.35, 13.0, 13.4, 13.64, 13.55, 13.0, 12.1, 11.0]   # per mille

# panel c: 69 YRI depth curves, y (x 1e4) at depth_x (x 1e5)
depth_x = [0, 5, 10, 15, 20.78]
depth_curves = [
    [0, 1.68, 3.24, 4.76, 6.13], [0, 1.66, 3.20, 4.58, 5.50], [0, 1.36, 2.72, 4.00, 5.41],
    [0, 0.95, 2.05, 3.10, 4.55], [0, 0.92, 1.98, 3.05, 4.49], [0, 0.90, 1.95, 2.95, 4.40],
    [0, 0.88, 1.90, 2.90, 4.29], [0, 1.10, 2.15, 3.05, 3.95], [0, 1.08, 2.12, 3.00, 3.90],
    [0, 1.05, 2.05, 2.95, 3.82],
    [0, 0.62, 1.15, 1.68, 2.22], [0, 0.66, 1.22, 1.75, 2.28], [0, 0.58, 1.15, 1.75, 2.35],
    [0, 0.70, 1.30, 1.88, 2.42], [0, 0.64, 1.25, 1.86, 2.48], [0, 0.72, 1.38, 1.98, 2.55],
    [0, 0.66, 1.30, 1.96, 2.60], [0, 0.75, 1.42, 2.05, 2.65], [0, 0.68, 1.35, 2.02, 2.70],
    [0, 0.78, 1.48, 2.13, 2.75], [0, 0.72, 1.42, 2.12, 2.80], [0, 0.80, 1.52, 2.20, 2.84],
    [0, 0.74, 1.46, 2.17, 2.88], [0, 0.82, 1.56, 2.26, 2.92], [0, 0.76, 1.50, 2.23, 2.96],
    [0, 0.84, 1.60, 2.32, 3.00], [0, 0.78, 1.54, 2.29, 3.04], [0, 0.86, 1.64, 2.38, 3.08],
    [0, 0.80, 1.58, 2.35, 3.12], [0, 0.88, 1.68, 2.44, 3.16], [0, 0.82, 1.62, 2.41, 3.20],
    [0, 0.90, 1.72, 2.50, 3.24], [0, 0.84, 1.66, 2.47, 3.28], [0, 0.92, 1.76, 2.56, 3.32],
    [0, 0.86, 1.70, 2.53, 3.36], [0, 0.94, 1.80, 2.62, 3.40], [0, 0.88, 1.74, 2.59, 3.44],
    [0, 0.96, 1.84, 2.68, 3.48], [0, 0.90, 1.78, 2.65, 3.52], [0, 0.98, 1.88, 2.74, 3.56],
    [0, 0.92, 1.82, 2.71, 3.60], [0, 1.00, 1.92, 2.80, 3.64], [0, 0.94, 1.86, 2.77, 3.68],
    [0, 1.02, 1.96, 2.86, 3.72], [0, 0.96, 1.90, 2.83, 3.76], [0, 1.04, 2.00, 2.92, 3.80],
    [0, 0.98, 1.94, 2.89, 3.84], [0, 1.06, 2.04, 2.98, 3.88], [0, 1.00, 1.98, 2.95, 3.92],
    [0, 0.60, 1.20, 1.85, 2.52], [0, 0.85, 1.55, 2.15, 2.68], [0, 0.62, 1.30, 2.06, 2.90],
    [0, 0.95, 1.75, 2.45, 3.10], [0, 0.70, 1.45, 2.30, 3.30], [0, 1.05, 1.95, 2.75, 3.50],
    [0, 0.78, 1.62, 2.58, 3.70], [0, 0.75, 1.38, 1.92, 2.38], [0, 0.72, 1.45, 2.22, 3.02],
    [0, 0.68, 1.25, 1.80, 2.30], [0, 0.80, 1.45, 2.05, 2.62], [0, 0.86, 1.62, 2.33, 2.98],
    [0, 0.80, 1.60, 2.45, 3.34],
    [0, 0.70, 1.20, 1.55, 1.77], [0, 0.75, 1.25, 1.55, 1.68], [0, 0.68, 1.15, 1.45, 1.63],
    [0, 0.65, 1.10, 1.38, 1.52], [0, 0.55, 0.98, 1.25, 1.40], [0, 0.40, 0.70, 0.93, 1.12],
    [0, 0.18, 0.33, 0.46, 0.60],
]

# panel d: 69 YRI GC curves, fraction (per mille) at gc_curve_x
gc_curve_x = [0.2845, 0.35, 0.42, 0.50, 0.58, 0.65, 0.7166]
gc_curves = [
    [43.2, 37.5, 34.6, 34.3, 33.6, 28.5, 24.5],
    [20.5, 27.5, 31.2, 32.6, 33.5, 31.0, 25.0],
    [34.2, 30.0, 28.0, 27.3, 26.0, 23.0, 18.5],
    [33.5, 25.5, 21.0, 18.0, 16.0, 14.5, 13.0],
    [15.0, 17.0, 19.5, 22.0, 27.5, 34.0, 41.0],
    [13.0, 14.5, 16.0, 17.5, 20.0, 24.5, 31.0],
    [12.0, 13.0, 14.0, 15.5, 18.0, 21.5, 27.3],
    [25.8, 23.0, 19.5, 16.5, 15.5, 18.0, 26.0],
    [11.0, 12.5, 13.5, 15.0, 17.0, 20.0, 24.8],
    [10.0, 11.5, 13.0, 14.5, 16.0, 18.5, 23.0],
    [25.5, 22.8, 19.5, 16.5, 14.5, 13.0, 11.0],
    [25.0, 22.2, 19.0, 16.2, 14.2, 12.2, 9.5],
    [24.6, 23.0, 20.5, 17.0, 14.0, 11.5, 8.0],
    [23.6, 21.8, 19.8, 17.5, 15.0, 12.5, 9.0],
    [18.5, 22.0, 21.0, 18.0, 15.5, 14.0, 12.5],
    [21.0, 20.8, 20.0, 19.0, 18.0, 17.0, 16.0],
    [12.0, 15.0, 19.0, 21.8, 23.0, 21.5, 19.0],
    [14.0, 17.5, 20.5, 21.2, 21.0, 21.5, 23.5],
    [19.5, 19.0, 18.0, 17.2, 17.0, 18.0, 20.0],
    [20.0, 18.5, 17.5, 17.8, 18.5, 19.5, 22.0],
    [5.2, 5.4, 5.5, 5.3, 4.7, 3.5, 2.2],
    [5.2, 4.5, 4.0, 3.5, 3.0, 2.5, 1.8],
    [5.5, 6.5, 7.5, 8.2, 8.3, 8.0, 7.5],
    [5.3, 7.0, 8.8, 9.8, 10.0, 9.0, 6.0],
    [6.0, 7.5, 9.0, 10.5, 11.5, 10.0, 6.5],
    [7.0, 9.0, 11.5, 13.0, 13.5, 12.5, 10.0],
    [7.5, 9.5, 11.0, 12.0, 12.5, 13.0, 14.0],
    [8.0, 10.0, 12.5, 14.0, 14.5, 13.5, 11.0],
    [8.2, 9.8, 11.2, 12.3, 13.0, 14.5, 17.0],
    [8.5, 10.5, 12.0, 13.0, 13.2, 12.0, 8.5],
    [8.8, 10.2, 11.5, 12.8, 14.0, 15.5, 18.5],
    [9.0, 11.0, 13.0, 14.2, 14.0, 12.5, 9.5],
    [9.2, 10.0, 10.8, 11.5, 12.0, 12.2, 12.0],
    [9.5, 11.5, 13.5, 14.5, 14.2, 13.0, 11.5],
    [9.8, 10.8, 12.0, 13.5, 15.0, 16.5, 19.0],
    [10.0, 12.0, 13.8, 14.8, 14.5, 13.0, 10.5],
    [10.2, 11.0, 11.8, 12.5, 13.2, 14.0, 15.5],
    [10.5, 12.5, 14.0, 14.8, 15.0, 14.5, 13.5],
    [10.8, 11.5, 12.2, 12.8, 13.0, 12.0, 9.0],
    [11.0, 12.8, 14.3, 15.3, 15.5, 15.0, 14.0],
    [11.2, 12.0, 12.5, 13.0, 13.8, 15.5, 18.0],
    [11.5, 13.0, 14.5, 15.5, 15.8, 14.8, 12.0],
    [11.8, 12.5, 13.2, 14.0, 14.5, 14.2, 13.0],
    [12.0, 13.5, 15.0, 15.8, 15.5, 14.0, 11.0],
    [12.2, 12.8, 13.5, 14.2, 15.0, 16.2, 18.8],
    [12.5, 13.2, 13.8, 14.5, 15.0, 15.0, 14.5],
    [12.8, 13.0, 13.2, 13.5, 13.8, 13.2, 11.5],
    [13.0, 14.0, 15.0, 15.5, 15.2, 14.5, 13.2],
    [13.2, 13.5, 13.8, 14.0, 14.5, 15.8, 19.5],
    [13.5, 14.5, 15.5, 16.0, 15.5, 13.5, 10.0],
    [13.8, 13.5, 13.2, 13.0, 13.2, 13.5, 14.0],
    [14.0, 14.8, 15.5, 15.8, 15.2, 13.0, 8.0],
    [14.2, 14.0, 13.8, 13.8, 14.2, 15.2, 17.2],
    [14.5, 15.0, 15.5, 15.5, 15.0, 14.0, 12.5],
    [14.8, 14.5, 14.0, 13.5, 13.2, 12.8, 12.0],
    [15.0, 15.5, 16.0, 16.2, 16.0, 15.5, 15.0],
    [15.2, 14.8, 14.0, 13.2, 12.5, 11.0, 7.0],
    [15.5, 15.2, 15.0, 14.8, 15.0, 16.0, 18.0],
    [15.8, 15.0, 14.2, 13.8, 13.5, 12.5, 10.5],
    [16.0, 16.2, 16.0, 15.5, 15.0, 14.5, 14.0],
    [16.2, 15.5, 14.5, 13.8, 13.5, 13.0, 12.0],
    [16.5, 16.8, 16.5, 16.0, 15.8, 16.0, 17.0],
    [16.8, 15.8, 14.8, 14.0, 13.5, 12.0, 8.5],
    [17.0, 16.5, 15.8, 15.0, 14.5, 14.0, 13.5],
    [17.5, 17.0, 16.2, 15.5, 15.5, 16.5, 20.0],
    [7.2, 8.5, 10.0, 11.0, 11.5, 11.2, 10.0],
    [10.5, 10.8, 11.0, 11.2, 11.0, 10.5, 9.2],
    [11.8, 13.8, 15.8, 16.8, 17.0, 16.8, 16.5],
    [12.5, 14.5, 16.5, 17.5, 17.8, 17.5, 16.0],
]

depth_ticks = [0, 5e5, 10e5, 15e5, 20e5]
depth_tick_text = ["0", "5e5", "10e5", "15e5", "20e5"]
count_ticks = [0, 2e4, 4e4, 6e4, 8e4, 10e4]
count_tick_text = ["0", "2e4", "4e4", "6e4", "8e4", "10e4"]
gc_ticks = [0.3, 0.4, 0.5, 0.6, 0.7]
gc_tick_text = ["0.3", "0.4", "0.5", "0.6", "0.7"]
frac_ticks = [0, 0.01, 0.02, 0.03, 0.04, 0.05]
frac_tick_text = ["0.00", "0.01", "0.02", "0.03", "0.04", "0.05"]

# ---------------- figure ---------------- #

AX_FONT = "Liberation Sans, Arial, sans-serif"
HEAD_FONT = "Open Sans, Noto Sans, sans-serif"


def fx(x):
    return x / W


def fy(y):
    return 1 - y / H


circle = dict(symbol="circle-open", size=8.5, color="black", line=dict(width=1.7, color="black"))

fig = go.Figure()

# a
fig.add_trace(go.Scatter(
    x=[p[0] * 1e5 for p in gm_points], y=[p[1] * 1e4 for p in gm_points],
    mode="markers", xaxis="x", yaxis="y", marker=circle))
fig.add_trace(go.Scatter(
    x=[v * 1e5 for v in gm_fit_x], y=[v * 1e4 for v in gm_fit_y],
    mode="lines", line=dict(color="#3a55a8", width=1.6, shape="spline"), xaxis="x", yaxis="y"))

# b
gc_all = gc_core + gc_dense + gc_dense2 + gc_sparse + [(x, 0.0) for x in gc_zero_x]
fig.add_trace(go.Scatter(
    x=[p[0] for p in gc_all], y=[p[1] / 1000 for p in gc_all],
    mode="markers", xaxis="x2", yaxis="y2", marker=circle))
fig.add_trace(go.Scatter(
    x=gc_fit_x, y=[v / 1000 for v in gc_fit_y],
    mode="lines", line=dict(color="#e8161c", width=1.8, shape="spline"), xaxis="x2", yaxis="y2"))

# c
for curve in depth_curves:
    fig.add_trace(go.Scatter(
        x=[v * 1e5 for v in depth_x], y=[v * 1e4 for v in curve],
        mode="lines", line=dict(color="black", width=1.8, shape="spline"), xaxis="x3", yaxis="y3"))

# d
for curve in gc_curves:
    fig.add_trace(go.Scatter(
        x=gc_curve_x, y=[v / 1000 for v in curve],
        mode="lines", line=dict(color="black", width=1.8, shape="spline"), xaxis="x4", yaxis="y4"))

axis_style = dict(showline=True, linecolor="black", linewidth=2, mirror=True,
                  ticks="outside", ticklen=10, tickwidth=1.5, tickcolor="black",
                  showgrid=False, zeroline=False,
                  tickfont=dict(family=AX_FONT, size=21, color="black"))
x_style = dict(axis_style, ticklabelstandoff=-6)
y_style = dict(axis_style, ticklabelstandoff=-2)

fig.update_layout(
    width=W, height=H, margin=dict(l=0, r=0, t=0, b=0),
    paper_bgcolor="white", plot_bgcolor="white", showlegend=False,
    xaxis=dict(x_style, domain=[fx(176), fx(614)], range=[-0.74e5, 20.84e5],
               tickvals=depth_ticks, ticktext=depth_tick_text, anchor="y"),
    yaxis=dict(y_style, domain=[fy(497), fy(106.5)], range=[-0.355e4, 9.77e4],
               tickvals=count_ticks[:5], ticktext=count_tick_text[:5], anchor="x"),
    xaxis2=dict(x_style, domain=[fx(782), fx(1218)], range=[0.284, 0.7155],
                tickvals=gc_ticks, ticktext=gc_tick_text, anchor="y2"),
    yaxis2=dict(y_style, domain=[fy(497), fy(106)], range=[-0.00198, 0.0522],
                tickvals=frac_ticks, ticktext=frac_tick_text, anchor="x2"),
    xaxis3=dict(x_style, domain=[fx(169), fx(606)], range=[-0.84e5, 20.78e5],
                tickvals=depth_ticks, ticktext=depth_tick_text, anchor="y3"),
    yaxis3=dict(y_style, domain=[fy(1023), fy(632)], range=[-0.39e4, 10.4e4],
                tickvals=count_ticks, ticktext=count_tick_text, anchor="x3"),
    xaxis4=dict(x_style, domain=[fx(775.5), fx(1212)], range=[0.2845, 0.7166],
                tickvals=gc_ticks, ticktext=gc_tick_text, anchor="y4"),
    yaxis4=dict(y_style, domain=[fy(1025), fy(633)], range=[-0.0021, 0.0521],
                tickvals=frac_ticks, ticktext=frac_tick_text, anchor="x4"),
)

labels = [
    # text, x px, y px, size, font, rotation, xanchor
    ("Read Depth", 363, 26, 33, HEAD_FONT, 0, "center"),
    ("GC Content", 987, 26, 33, HEAD_FONT, 0, "center"),
    ("a", 175, 73, 27, HEAD_FONT, 0, "center"),
    ("b", 711, 73, 27, HEAD_FONT, 0, "center"),
    ("c", 171, 594, 27, HEAD_FONT, 0, "center"),
    ("d", 711, 604, 27, HEAD_FONT, 0, "center"),
    ("GM18499", 9, 127, 32.5, HEAD_FONT, 0, "left"),
    ("69 YRI", 9, 637, 32.5, HEAD_FONT, 0, "left"),
    ("Total read counts across individuals", 428, 547, 23.5, AX_FONT, 0, "center"),
    ("Read counts in one individual", 105, 316, 23.5, AX_FONT, -90, "center"),
    ("GC fraction", 1023, 543, 23, AX_FONT, 0, "center"),
    ("Fraction from one individual", 692, 298, 23.5, AX_FONT, -90, "center"),
    ("Total read counts across individuals", 404, 1080, 23.5, AX_FONT, 0, "center"),
    ("Read counts in one individual", 98, 836, 23.5, AX_FONT, -90, "center"),
    ("GC fraction", 1016, 1072, 23, AX_FONT, 0, "center"),
    ("Fraction from one individual", 692, 835, 23.5, AX_FONT, -90, "center"),
]
for text, x, y, size, family, rot, xanchor in labels:
    fig.add_annotation(text=text, x=fx(x), y=fy(y), xref="paper", yref="paper",
                       xanchor=xanchor, yanchor="middle", showarrow=False, textangle=rot,
                       font=dict(family=family, size=size, color="black"))

# the page's default body margin would push the figure 8px off; drop it
fig.write_html("out.html", config={"displayModeBar": False},
               post_script="document.body.style.margin='0px';document.body.style.overflow='hidden';")
